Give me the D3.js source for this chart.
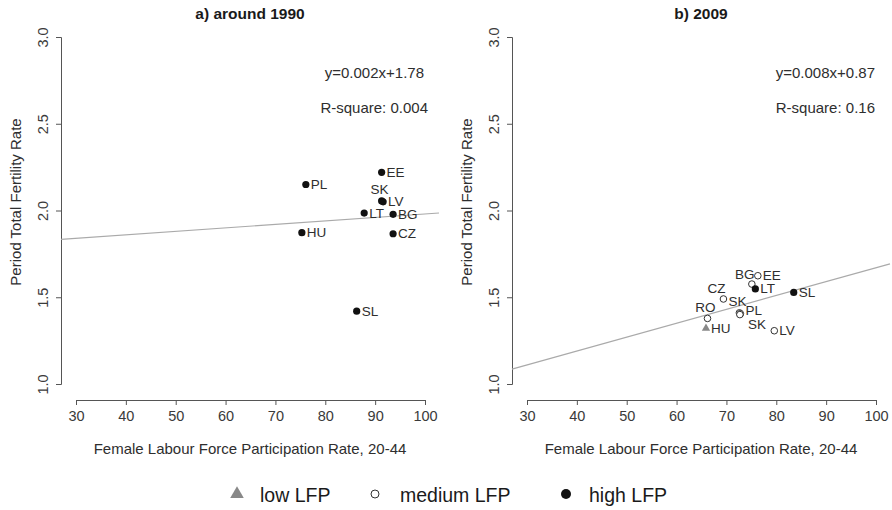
<!DOCTYPE html>
<html>
<head>
<meta charset="utf-8">
<script src="https://cdn.jsdelivr.net/npm/d3@7"></script>
<style>
  html, body { margin: 0; padding: 0; background: #fff; }
  svg { display: block; font-family: "Liberation Sans", Arial, sans-serif; }
</style>
</head>
<body>
<svg id="chart" width="892" height="510"></svg>
<script>
// ---- data -------------------------------------------------------------
// Panel a) around 1990
const countries1990 = ["EE", "PL", "SK", "LV", "LT", "BG", "HU", "CZ", "SL"];
const lfp1990       = [91.3, 76.1, 91.3, 91.6, 87.8, 93.6, 75.3, 93.6, 86.3];
const tfr1990       = [2.22, 2.15, 2.055, 2.05, 1.985, 1.978, 1.872, 1.866, 1.42];
const group1990     = ["high", "high", "high", "high", "high", "high", "high", "high", "high"];
const labelPos1990  = ["e", "e", "n", "e", "e", "e", "e", "e", "e"];

// Panel b) 2009
const countries2009 = ["EE", "BG", "LT", "SL", "CZ", "SK", "PL", "SK", "RO", "HU", "LV"];
const lfp2009       = [76.3, 75.1, 75.8, 83.5, 69.4, 72.6, 72.8, 72.7, 66.2, 65.9, 79.6];
const tfr2009       = [1.624, 1.576, 1.548, 1.528, 1.49, 1.41, 1.405, 1.40, 1.378, 1.321, 1.307];
const group2009     = ["medium", "medium", "high", "high", "medium", "medium", "medium", "medium", "medium", "low", "medium"];
const labelPos2009  = ["e", "nw", "e", "e", "nw", "n", "ne", "se", "n", "e", "e"];

// Regression fits shown in each panel
const fits = [
  { title: "a) around 1990", slope: 0.002, intercept: 1.78, eq: "y=0.002x+1.78", r2: "R-square: 0.004" },
  { title: "b) 2009",        slope: 0.008, intercept: 0.87, eq: "y=0.008x+0.87", r2: "R-square: 0.16" }
];

const xTicks = [30, 40, 50, 60, 70, 80, 90, 100];
const yTicks = [1.0, 1.5, 2.0, 2.5, 3.0];
const legendLabels = ["low LFP", "medium LFP", "high LFP"];

// ---- layout -----------------------------------------------------------
const svg = d3.select("#chart");
const panelOffsets = [0, 451];
const textColor = "#2e2e2e";
const axisColor = "#555";
const fontFamily = "Liberation Sans, Arial, sans-serif";

const panels = [
  { names: countries1990, xs: lfp1990, ys: tfr1990, groups: group1990, pos: labelPos1990 },
  { names: countries2009, xs: lfp2009, ys: tfr2009, groups: group2009, pos: labelPos2009 }
];

// label placement around a point, by compass direction
function labelOffset(code) {
  switch (code) {
    case "n":  return { dx: -2, dy: -11, anchor: "middle" };
    case "nw": return { dx: -7, dy: -10, anchor: "middle" };
    case "ne": return { dx: 5, dy: -3, anchor: "start" };
    case "se": return { dx: 17, dy: 10, anchor: "middle" };
    case "w":  return { dx: -5, dy: 0, anchor: "end" };
    default:   return { dx: 5, dy: 0, anchor: "start" };
  }
}

panels.forEach((p, i) => {
  const ox = panelOffsets[i];
  const fit = fits[i];
  const x = d3.scaleLinear().domain([30, 100]).range([76 + ox, 425 + ox]);
  const y = d3.scaleLinear().domain([1, 3]).range([384, 37]);
  // plotting region (axis range padded by 4% on each side)
  const x0 = x.invert(61 + ox), x1 = x.invert(439 + ox);

  const g = svg.append("g");

  // title
  g.append("text")
    .attr("x", 250 + ox).attr("y", 13)
    .attr("text-anchor", "middle").attr("dominant-baseline", "central")
    .attr("font-weight", "bold").attr("font-size", 15.5)
    .attr("fill", "#1a1a1a")
    .text(fit.title);

  // x axis
  const xa = g.append("g")
    .attr("transform", `translate(0,400)`)
    .call(d3.axisBottom(x).tickValues(xTicks).tickSizeOuter(0).tickSize(5).tickPadding(6));
  xa.select(".domain").attr("stroke", axisColor);
  xa.selectAll(".tick line").attr("stroke", axisColor);
  xa.selectAll(".tick text").attr("font-size", 14.5).attr("fill", "#3a3a3a")
    .attr("font-family", fontFamily);

  // y axis with rotated tick labels
  const ya = g.append("g")
    .attr("transform", `translate(${61 + ox},0)`)
    .call(d3.axisLeft(y).tickValues(yTicks).tickFormat(d3.format(".1f")).tickSizeOuter(0).tickSize(5));
  ya.select(".domain").attr("stroke", axisColor);
  ya.selectAll(".tick line").attr("stroke", axisColor);
  ya.selectAll(".tick text")
    .attr("x", null).attr("dy", null)
    .attr("transform", "translate(-18,0) rotate(-90)")
    .attr("text-anchor", "middle")
    .attr("dominant-baseline", "central")
    .attr("font-size", 14.5).attr("fill", "#3a3a3a")
    .attr("font-family", fontFamily);

  // axis titles
  g.append("text")
    .attr("x", 250 + ox).attr("y", 448)
    .attr("text-anchor", "middle").attr("dominant-baseline", "central")
    .attr("font-size", 15).attr("fill", textColor)
    .text("Female Labour Force Participation Rate, 20-44");
  g.append("text")
    .attr("transform", `translate(${15 + ox},202) rotate(-90)`)
    .attr("text-anchor", "middle").attr("dominant-baseline", "central")
    .attr("font-size", 15).attr("fill", textColor)
    .text("Period Total Fertility Rate");

  // regression line across the plotting region
  g.append("line")
    .attr("x1", x(x0)).attr("y1", y(fit.slope * x0 + fit.intercept))
    .attr("x2", x(x1)).attr("y2", y(fit.slope * x1 + fit.intercept))
    .attr("stroke", "#aaa").attr("stroke-width", 1.2);

  // fit annotation
  g.append("text")
    .attr("x", 424 + ox).attr("y", 72)
    .attr("text-anchor", "end").attr("dominant-baseline", "central")
    .attr("font-size", 15).attr("fill", textColor)
    .text(fit.eq);
  g.append("text")
    .attr("x", (i === 0 ? 428 : 424) + ox).attr("y", 107)
    .attr("text-anchor", "end").attr("dominant-baseline", "central")
    .attr("font-size", 15).attr("fill", textColor)
    .text(fit.r2);

  // points
  const idx = d3.range(p.names.length);
  const pts = g.append("g");
  idx.forEach(k => {
    const cx = x(p.xs[k]), cy = y(p.ys[k]);
    if (p.groups[k] === "high") {
      pts.append("circle").attr("cx", cx).attr("cy", cy).attr("r", 3.6).attr("fill", "#111");
    } else if (p.groups[k] === "medium") {
      pts.append("circle").attr("cx", cx).attr("cy", cy).attr("r", 3.3)
        .attr("fill", "#fff").attr("stroke", "#333").attr("stroke-width", 1);
    } else {
      pts.append("path")
        .attr("d", d3.symbol(d3.symbolTriangle, 30)())
        .attr("transform", `translate(${cx},${cy})`)
        .attr("fill", "#888");
    }
  });

  // country labels
  idx.forEach(k => {
    const o = labelOffset(p.pos[k]);
    g.append("text")
      .attr("x", x(p.xs[k]) + o.dx).attr("y", y(p.ys[k]) + o.dy)
      .attr("text-anchor", o.anchor).attr("dominant-baseline", "central")
      .attr("font-size", 13.5).attr("fill", textColor)
      .text(p.names[k]);
  });
});

// ---- legend -----------------------------------------------------------
const lg = svg.append("g").attr("font-size", 19.5).attr("fill", "#1a1a1a");
const legendX = [237, 375, 566];
lg.append("path").attr("d", d3.symbol(d3.symbolTriangle, 80)())
  .attr("transform", `translate(${legendX[0]},494)`).attr("fill", "#888");
lg.append("circle").attr("cx", legendX[1]).attr("cy", 494).attr("r", 4)
  .attr("fill", "#fff").attr("stroke", "#333").attr("stroke-width", 1);
lg.append("circle").attr("cx", legendX[2]).attr("cy", 494).attr("r", 5).attr("fill", "#111");
legendLabels.forEach((t, k) => {
  lg.append("text").attr("x", legendX[k] + (k === 1 ? 25 : 23)).attr("y", 495)
    .attr("dominant-baseline", "central").text(t);
});
</script>
</body>
</html>
